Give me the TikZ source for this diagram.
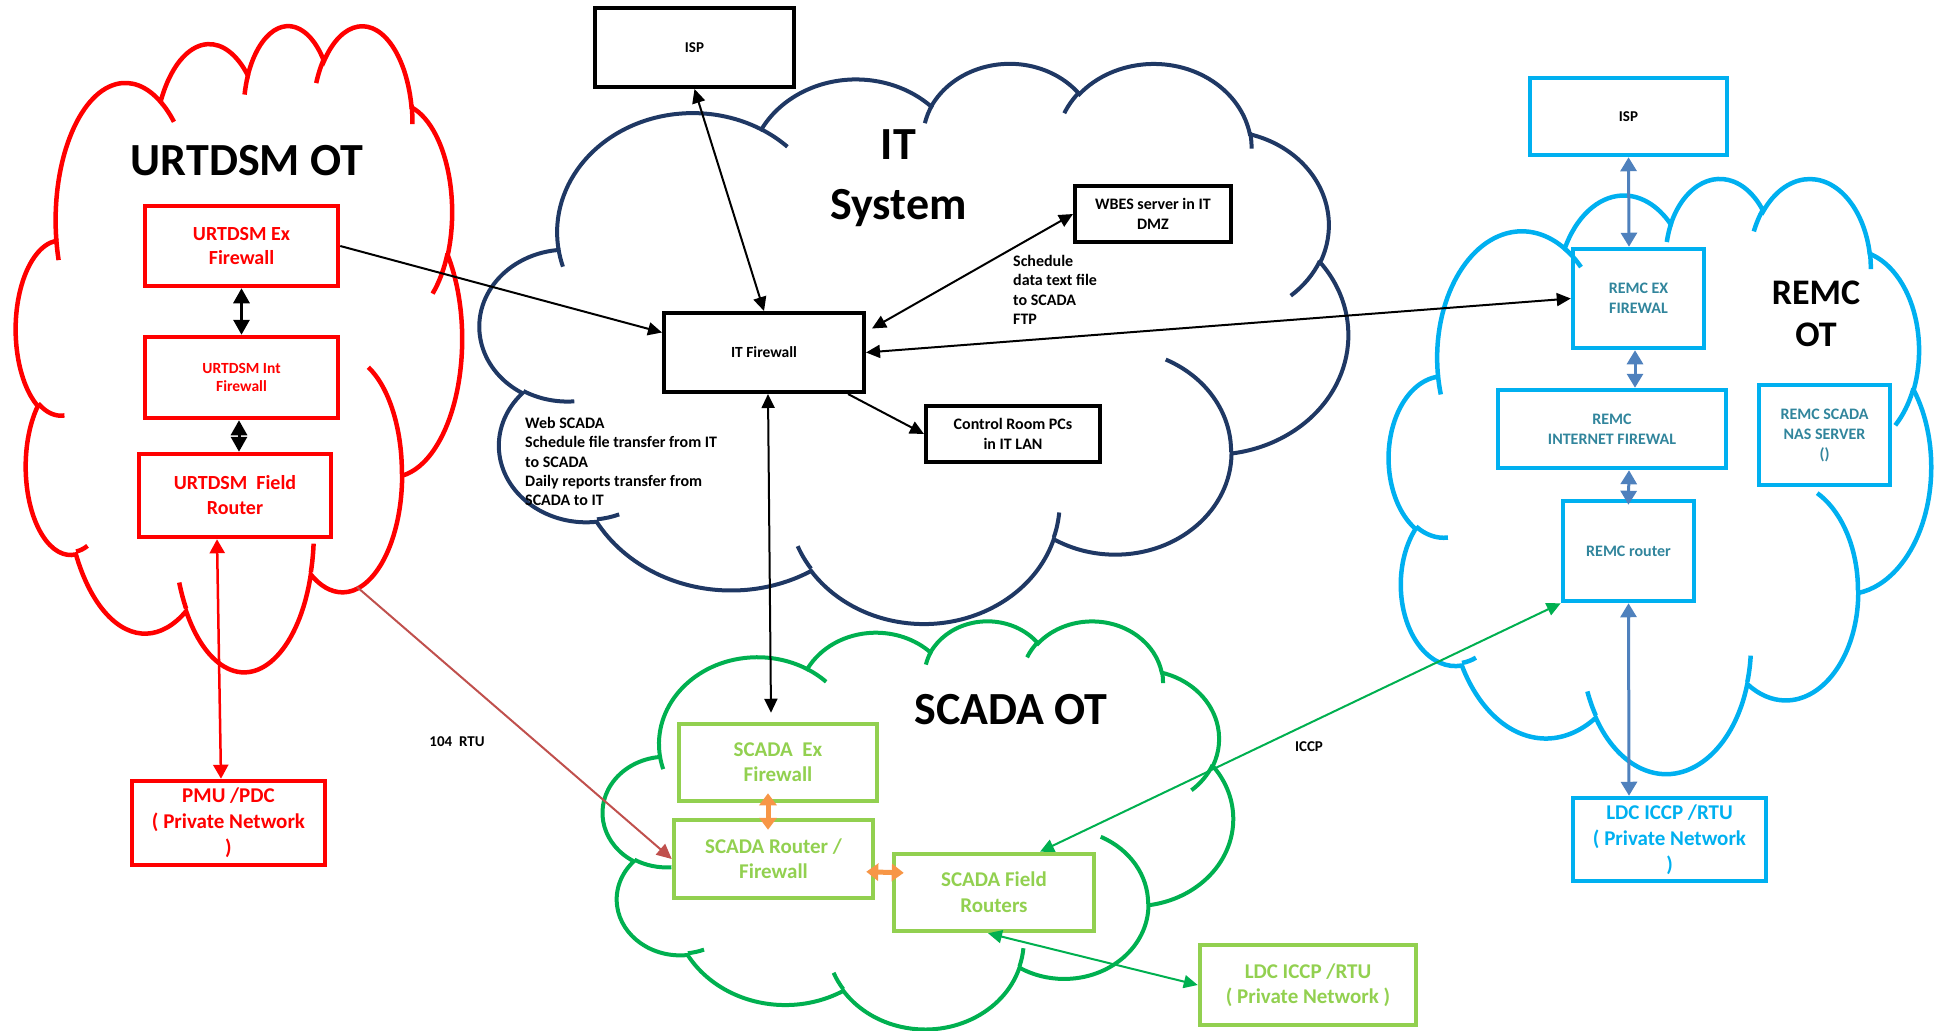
\documentclass[tikz,border=0pt]{standalone}
\usepackage{fontspec}
\setmainfont{Carlito}
\usetikzlibrary{arrows.meta}

\definecolor{urtred}{HTML}{FF0000}
\definecolor{itnavy}{HTML}{1F3864}
\definecolor{scgreen}{HTML}{00B050}
\definecolor{sclight}{HTML}{92D050}
\definecolor{remccyan}{HTML}{00B0F0}
\definecolor{remcteal}{HTML}{31859C}
\definecolor{steel}{HTML}{4F81BD}
\definecolor{orng}{HTML}{F79646}
\definecolor{rtubrown}{HTML}{C0504D}

\newcommand\fsz[2]{\fontsize{#1}{#2}\selectfont\bfseries}

% elliptic arc given by radii, start angle and sweep (angles measured as directions)
\newcommand\cloudarc[4]{arc[start angle={ptang(#1,#2,#3)},
  delta angle={mod(ptang(#1,#2,(#3)+(#4))-ptang(#1,#2,#3)+720,360)},
  x radius=#1, y radius=#2]}

% cloud outline with its inner stubs, in a 432 x 432 unit frame
\newcommand\drawcloud[5]{%
  \begin{scope}[shift={(#2,#3)}, xscale=#4/432, yscale=#5/432]
    \draw[#1] (39.00,143.70)
      \cloudarc{67.53}{91.90}{-190.4875}{123.7805}
      \cloudarc{53.33}{72.67}{-144.1024}{89.9452}
      \cloudarc{43.65}{59.45}{-145.8079}{99.7230}
      \cloudarc{48.57}{65.95}{-130.9861}{117.2417}
      \cloudarc{53.33}{72.73}{-78.7089}{109.0269}
      \cloudarc{67.75}{92.20}{-46.2673}{130.2690}
      \cloudarc{57.85}{78.67}{0.6250}{114.0333}
      \cloudarc{67.52}{92.15}{22.4516}{115.1726}
      \cloudarc{77.20}{105.43}{66.2426}{75.7110}
      \cloudarc{43.60}{59.18}{-274.9421}{146.7356}
      \cloudarc{43.45}{59.45}{-246.8285}{152.5189}
      -- cycle;
    \draw[#1]
      (46.93,261.77) \cloudarc{43.45}{59.45}{86.7420}{26.4295}
      (69.28,348.99) \cloudarc{43.60}{59.18}{73.6105}{11.4475}
      (164.78,390.90) \cloudarc{67.52}{92.15}{137.6242}{14.0811}
      (288.27,347.51) \cloudarc{67.52}{92.15}{6.4533}{15.9984}
      (341.29,229.54) \cloudarc{57.85}{78.67}{-70.2924}{70.9174}
      (417.98,153.54) \cloudarc{53.33}{72.73}{30.3180}{27.7515}
      (383.24,54.26) \cloudarc{48.57}{65.95}{-13.7443}{14.8589}
      (290.78,39.52) \cloudarc{48.57}{65.95}{-149.1815}{18.1954}
      (221.41,47.20) \cloudarc{43.65}{59.45}{-163.4943}{17.6864}
      (140.00,51.92) \cloudarc{67.53}{91.90}{-66.7070}{12.3194}
      (41.27,157.89) \cloudarc{67.53}{91.90}{157.6544}{11.8582};
  \end{scope}}

\tikzset{
  declare function={ptang(\wr,\hr,\ang)=atan2(\wr*sin(\ang),\hr*cos(\ang));},
  box/.style={line width=4pt, inner sep=0pt, align=center},
  blackbox/.style={box, draw=black, text=black},
  redbox/.style={box, draw=urtred, text=urtred, line width=4.5pt},
  greenbox/.style={box, draw=sclight, text=sclight, line width=4.5pt},
  cyanbox/.style={box, draw=remccyan, text=remcteal, line width=4.5pt},
  title/.style={align=center, inner sep=0pt, text=black},
  note/.style={align=left, inner sep=0pt, text=black},
  blkline/.style={draw=black, line width=2pt, >={Triangle[length=14pt,width=13pt]}},
  thkline/.style={draw=black, line width=3pt, >={Triangle[length=15pt,width=16pt]}},
  redline/.style={draw=urtred, line width=2.5pt, >={Triangle[length=14pt,width=15pt]}},
  brownline/.style={draw=rtubrown, line width=2pt, >={Triangle[length=15pt,width=14pt]}},
  orgline/.style={draw=orng, line width=5pt, >={Triangle[length=12pt,width=17pt]}},
  grnline/.style={draw=scgreen, line width=2pt, >={Triangle[length=14pt,width=13pt]}},
  blueline/.style={draw=steel, line width=3pt, >={Triangle[length=14pt,width=16pt]}},
}

\begin{document}
\begin{tikzpicture}[x=1pt, y=-1pt]
\useasboundingbox (0,0) rectangle (1934,1030);

% zone clouds
\drawcloud{urtred, line width=4.5pt}{16}{24}{446}{646}
\drawcloud{itnavy, line width=4pt}{480}{62}{868}{560}
\drawcloud{scgreen, line width=4pt}{603}{620}{630}{408}
\drawcloud{remccyan, line width=4.5pt}{1389}{177}{542}{595}

% zone titles
\node[title, font=\fsz{46}{56}] (urttitle) at (247,161) {URTDSM OT};
\node[title, font=\fsz{46}{60}] (ittitle) at (898.5,178) {IT\\System};
\node[title, font=\fsz{46}{56}] (sctitle) at (1011,710) {SCADA OT};
\node[title, font=\fsz{36}{42}] (remctitle) at (1816,314) {REMC\\OT};

% IT system
\node[blackbox, minimum width=199pt, minimum height=79pt, font=\fsz{15}{18}] (isp) at (694.5,47.5) {ISP};
\node[blackbox, minimum width=200pt, minimum height=79pt, font=\fsz{15.5}{18}] (itfw) at (764,352.5) {IT Firewall};
\node[blackbox, minimum width=174pt, minimum height=56pt, font=\fsz{16}{20}] (ctrl) at (1013,434) {Control Room PCs\\in IT LAN};
\node[blackbox, minimum width=156pt, minimum height=56pt, font=\fsz{16}{20}] (wbes) at (1153,214) {WBES server in IT\\DMZ};
\node[note, anchor=west, font=\fsz{16}{19.3}] (webtxt) at (525,461.5) {Web SCADA\\Schedule file transfer from IT\\to SCADA\\Daily reports transfer from\\SCADA to IT};
\node[note, anchor=west, font=\fsz{16}{19.3}] (schtxt) at (1013,290) {Schedule\\data text file\\to SCADA\\FTP};

% URTDSM OT
\node[redbox, minimum width=193pt, minimum height=80pt, font=\fsz{20}{24}] (urtex) at (241.5,246) {URTDSM Ex\\Firewall};
\node[redbox, minimum width=193pt, minimum height=81pt, font=\fsz{15.5}{18}] (urtint) at (241.5,377.5) {URTDSM Int\\Firewall};
\node[redbox, minimum width=192pt, minimum height=83pt, font=\fsz{20}{25}] (urtrt) at (235,495.5) {URTDSM\ \ Field\\Router};
\node[redbox, minimum width=193pt, minimum height=84pt, font=\fsz{21}{26}] (pmu) at (228.5,823) {PMU /PDC\\( Private Network\\)};

% SCADA OT
\node[greenbox, minimum width=198pt, minimum height=77pt, font=\fsz{21}{25}] (scex) at (778,762.5) {SCADA\ \ Ex\\Firewall};
\node[greenbox, minimum width=199pt, minimum height=78pt, font=\fsz{21}{25}] (scrt) at (773.5,859) {SCADA Router /\\Firewall};
\node[greenbox, minimum width=200pt, minimum height=77pt, font=\fsz{21}{26}] (scfield) at (994,892.5) {SCADA Field\\Routers};
\node[greenbox, minimum width=216pt, minimum height=80pt, font=\fsz{21}{25}] (ldcg) at (1308,985) {LDC ICCP /RTU\\( Private Network )};

% REMC OT
\node[cyanbox, text=black, minimum width=197pt, minimum height=77pt, font=\fsz{15}{18}] (remcisp) at (1628.5,116.5) {ISP};
\node[cyanbox, minimum width=131pt, minimum height=99pt, font=\fsz{16}{20}] (remcex) at (1638.5,298.5) {REMC EX\\FIREWAL};
\node[cyanbox, minimum width=228pt, minimum height=78pt, font=\fsz{16}{20}] (remcint) at (1612,429) {REMC\\INTERNET FIREWAL};
\node[cyanbox, minimum width=131pt, minimum height=100pt, font=\fsz{16}{20}] (remcnas) at (1824.5,435) {REMC SCADA\\NAS SERVER\\()};
\node[cyanbox, minimum width=131pt, minimum height=100pt, font=\fsz{16}{20}] (remcrt) at (1628.5,551) {REMC router};
\node[cyanbox, text=remccyan, minimum width=193pt, minimum height=83pt, font=\fsz{21}{26}] (ldcb) at (1669.5,839.5) {LDC ICCP /RTU\\( Private Network\\)};

% link labels
\node[title, font=\fsz{15}{18}] (rtulbl) at (457,742) {104\ \ RTU};
\node[title, font=\fsz{15}{18}] (iccplbl) at (1309,747) {ICCP};

% IT links
\draw[blkline, <->] (isp.south) -- (itfw.north);
\draw[blkline, ->] (urtex.east) -- ([yshift=20pt]itfw.west);
\draw[blkline, <->] (wbes.west) -- ([xshift=6pt,yshift=24pt]itfw.east);
\draw[blkline, ->] ([xshift=84pt]itfw.south) -- (ctrl.west);
\draw[blkline, <->] (itfw.east) -- (remcex.west);
\draw[blkline, <->] ([xshift=4pt]itfw.south) -- ([xshift=-7pt,yshift=9pt]scex.north);

% URTDSM links
\draw[thkline, <->] (urtex.south) -- (urtint.north);
\draw[thkline, <->] ([xshift=-2.5pt]urtint.south) -- ([xshift=4pt]urtrt.north);
\draw[redline, <->] ([xshift=-18pt]urtrt.south) -- ([xshift=-7.5pt]pmu.north);

% 104 RTU link from the URTDSM zone
\coordinate (rtustart) at (357,587);
\draw[brownline, ->] (rtustart) -- (scrt.west);

% SCADA links
\draw[orgline, <->, shorten <=-10pt, shorten >=-12pt] ([xshift=-10pt]scex.south) -- ([xshift=-5.5pt]scrt.north);
\draw[orgline, <->, shorten <=-9pt, shorten >=-12pt] ([yshift=-13pt]scrt.east) -- ([yshift=20pt]scfield.west);
\draw[grnline, <->] (remcrt.south west) -- ([xshift=46pt]scfield.north);
\draw[grnline, <->] ([xshift=-6pt]scfield.south) -- (ldcg.west);

% REMC links
\draw[blueline, <->] (remcisp.south) -- ([xshift=-9.5pt]remcex.north);
\draw[blueline, <->] ([xshift=-3.5pt]remcex.south) -- ([xshift=23pt]remcint.north);
\draw[blueline, <->, shorten >=-6pt] ([xshift=17pt]remcint.south) -- (remcrt.north);
\draw[blueline, <->] (remcrt.south) -- ([xshift=-40.5pt]ldcb.north);
\end{tikzpicture}
\end{document}
